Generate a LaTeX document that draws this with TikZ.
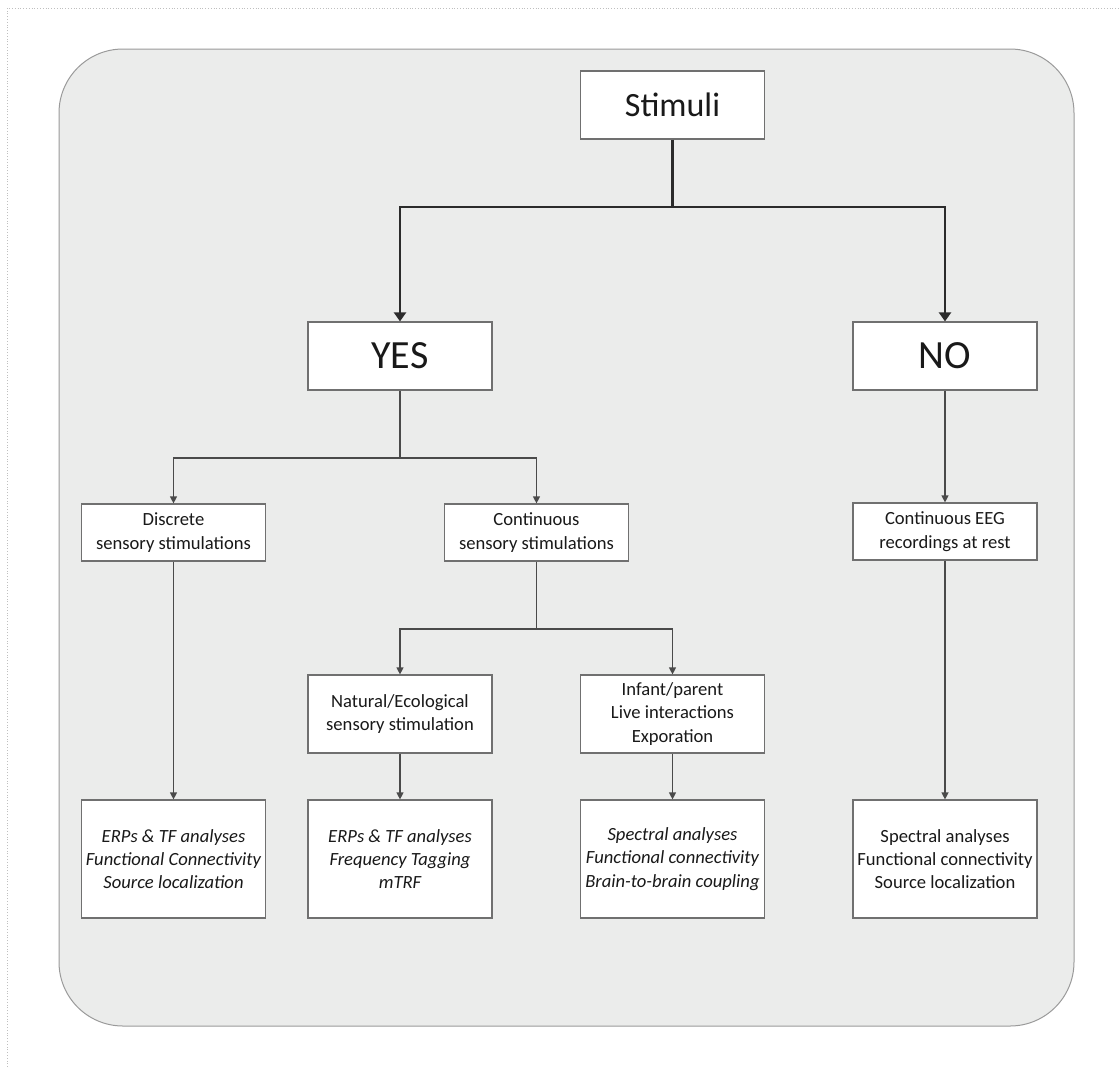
\documentclass[tikz,border=0pt]{standalone}
\usepackage{fontspec}
\setmainfont{Carlito}
\usetikzlibrary{arrows.meta,positioning}
\definecolor{panelgray}{HTML}{EBECEB}
\definecolor{paneledge}{HTML}{9A9A9A}
\definecolor{linedark}{HTML}{2B2B2B}
\definecolor{linethin}{HTML}{4A4A4A}
\definecolor{boxedge}{HTML}{707070}
\tikzset{
      stepbox/.style={
        draw=boxedge,
        line width=0.6pt,
        fill=white,
        minimum width=92pt,
        align=center,
        inner xsep=0.5pt,
        inner ysep=2pt,
        text=black!90,
        font=\fontsize{9.3}{11.7}\selectfont
      },
      topbox/.style={stepbox, minimum height=34pt, font=\fontsize{17}{20}\selectfont},
      answerbox/.style={stepbox, minimum height=34pt, font=\fontsize{20}{24}\selectfont},
      kindbox/.style={stepbox, minimum height=28.5pt},
      setupbox/.style={stepbox, minimum height=39pt},
      resultbox/.style={stepbox, minimum height=59pt},
      mainline/.style={line width=1.25pt, color=linedark},
      mainarrow/.style={mainline, -{Triangle[length=4.5pt,width=6pt]}},
      subline/.style={line width=0.6pt, color=linethin},
      subarrow/.style={subline, -{Triangle[length=3.5pt,width=3.5pt]}}
    }

\begin{document}
\begin{tikzpicture}[x=0.5pt,y=-0.5pt]
    \useasboundingbox (0,0) rectangle (1120,1067);
    % page frame and panel
    \draw[black!25, line width=0.4pt, densely dotted] (7,1067) -- (7,8) -- (1120,8);
    \draw[draw=paneledge, fill=panelgray, line width=0.5pt, rounded corners=32pt] (59,49) rectangle (1074,1026);

    \node[topbox] (stim) at (672.5,105) {Stimuli};
    \node[answerbox] (yes) at (400,356) {YES};
    \node[answerbox] (no) at (945,356) {NO};
    \node[kindbox] (disc) at (173.5,532.5) {Discrete\\sensory stimulations};
    \node[kindbox] (cont) at (536.5,532.5) {Continuous\\sensory stimulations};
    \node[kindbox] (rest) at (945,531.5) {Continuous EEG\\recordings at rest};
    \node[setupbox] (nat) at (400,714) {Natural/Ecological\\sensory stimulation};
    \node[setupbox] (live) at (672.5,714) {Infant/parent\\Live interactions\\Exporation};
    \node[resultbox] (res1) at (173.5,859) {\itshape ERPs \& TF analyses\\\itshape Functional Connectivity\\\itshape Source localization};
    \node[resultbox] (res2) at (400,859) {\itshape ERPs \& TF analyses\\\itshape Frequency Tagging\\\itshape mTRF};
    \node[resultbox] (res3) at (672.5,859) {\itshape Spectral analyses\\\itshape Functional connectivity\\\itshape Brain-to-brain coupling};
    \node[resultbox] (res4) at (945,859) {Spectral analyses\\Functional connectivity\\Source localization};

    \coordinate (fork1) at (672.5,207);
    \coordinate (fork2) at (400,458);
    \coordinate (fork3) at (536.5,629);

    \draw[mainline] (stim.south) -- (fork1);
    \draw[mainarrow] (fork1) -| (yes.north);
    \draw[mainarrow] (fork1) -| (no.north);
    \draw[subline] (yes.south) -- (fork2);
    \draw[subarrow] (fork2) -| (disc.north);
    \draw[subarrow] (fork2) -| (cont.north);
    \draw[subarrow] (no.south) -- (rest.north);
    \draw[subline] (cont.south) -- (fork3);
    \draw[subarrow] (fork3) -| (nat.north);
    \draw[subarrow] (fork3) -| (live.north);
    \draw[subarrow] (disc.south) -- (res1.north);
    \draw[subarrow] (nat.south) -- (res2.north);
    \draw[subarrow] (live.south) -- (res3.north);
    \draw[subarrow] (rest.south) -- (res4.north);
    \end{tikzpicture}
\end{document}
